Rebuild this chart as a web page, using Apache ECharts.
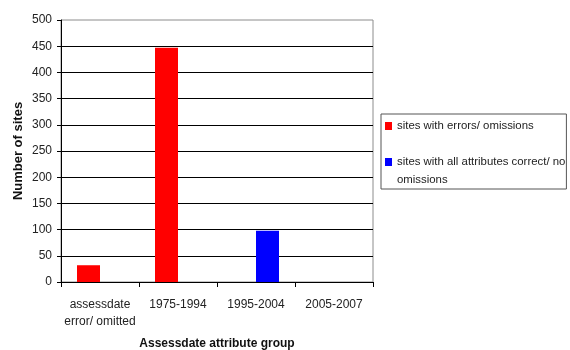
<!DOCTYPE html>
<html>
<head>
<meta charset="utf-8">
<script src="https://cdn.jsdelivr.net/npm/echarts@6/dist/echarts.min.js"></script>
<style>
  html, body { margin: 0; padding: 0; background: #fff; }
  #chart { width: 570px; height: 350px; }
</style>
</head>
<body>
<div id="chart"></div>
<script>
// Assessdate attribute groups on the x axis
const categories = ['assessdate\nerror/ omitted', '1975-1994', '1995-2004', '2005-2007'];
// Number of sites per group
const errorSites = [32, 447, 0, 0];
const correctSites = [0, 0, 98, 0];
const seriesNames = ['sites with errors/ omissions', 'sites with all attributes correct/ no omissions'];
const yTicks = { min: 0, max: 500, step: 50 };

const FONT = 'Liberation Sans, Arial, sans-serif';
const chart = echarts.init(document.getElementById('chart'), null, { renderer: 'canvas' });

chart.setOption({
  animation: false,
  backgroundColor: '#ffffff',
  textStyle: { fontFamily: FONT },
  grid: {
    left: 61, right: 197, top: 20, bottom: 68,
    outerBoundsMode: 'none',
    containLabel: false,
    show: true, borderColor: '#8c8c8c', borderWidth: 1, backgroundColor: 'transparent'
  },
  legend: {
    orient: 'vertical',
    left: 381, top: 114,
    padding: [3, 1, 0, 4],
    itemGap: 0,
    itemWidth: 7, itemHeight: 8,
    borderColor: '#555', borderWidth: 1,
    backgroundColor: '#fff',
    textStyle: { fontFamily: FONT, fontSize: 11.4, color: '#222', lineHeight: 18 },
    // the long label wraps; a leading blank line keeps its first line level with the swatch
    formatter: function (name) {
      return name === seriesNames[1] ? '\nsites with all attributes correct/ no\nomissions' : name;
    },
    data: [
      { name: seriesNames[0], icon: 'rect' },
      { name: seriesNames[1], icon: 'rect' }
    ]
  },
  xAxis: {
    type: 'category',
    data: categories,
    boundaryGap: true,
    name: 'Assessdate attribute group',
    nameLocation: 'middle',
    nameGap: 56,
    nameMoveOverlap: false,
    nameTextStyle: { fontFamily: FONT, fontSize: 12, fontWeight: 'bold', color: '#111' },
    axisLine: { show: true, lineStyle: { color: '#000', width: 1 } },
    axisTick: { show: true, length: 5, lineStyle: { color: '#000' } },
    axisLabel: { margin: 14, fontFamily: FONT, fontSize: 12, color: '#222', lineHeight: 17, interval: 0 },
    splitLine: { show: false }
  },
  yAxis: {
    type: 'value',
    min: yTicks.min, max: yTicks.max, interval: yTicks.step,
    name: 'Number of sites',
    nameLocation: 'middle',
    nameGap: 36,
    nameMoveOverlap: false,
    nameTextStyle: { fontFamily: FONT, fontSize: 13, fontWeight: 'bold', color: '#111' },
    axisLine: { show: true, lineStyle: { color: '#000', width: 1 } },
    axisTick: { show: true, length: 4, lineStyle: { color: '#000' } },
    axisLabel: { margin: 9, fontFamily: FONT, fontSize: 12, color: '#222' },
    splitLine: { show: true, showMaxLine: false, lineStyle: { color: '#000', width: 1 } }
  },
  series: [
    {
      name: seriesNames[0], type: 'bar', data: errorSites,
      itemStyle: { color: '#ff0000' },
      barWidth: 23, barGap: '0%'
    },
    {
      name: seriesNames[1], type: 'bar', data: correctSites,
      itemStyle: { color: '#0000ff' },
      barWidth: 23, barGap: '0%'
    }
  ]
});
</script>
</body>
</html>
